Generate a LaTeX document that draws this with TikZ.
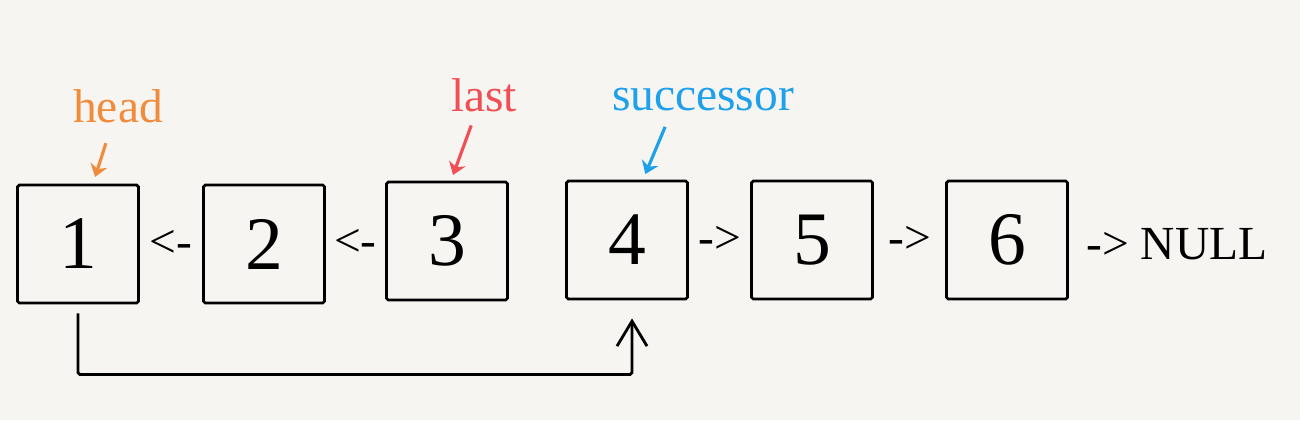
\documentclass[tikz,border=0pt]{standalone}
\usepackage{fontspec}
\setmainfont{Liberation Serif}
\usetikzlibrary{arrows.meta}

\definecolor{paper}{HTML}{F6F5F2}
\definecolor{headc}{HTML}{F08C3C}
\definecolor{lastc}{HTML}{F05055}
\definecolor{succc}{HTML}{1EA0EB}

\tikzset{
    listnode/.style={draw, line width=1.6pt, rounded corners=1pt, minimum width=2.42cm, minimum height=2.36cm, inner sep=0pt, font=\fontsize{43}{50}\selectfont},
    linktext/.style={font=\fontsize{27}{32}\selectfont},
    ptrlabel/.style={font=\fontsize{27}{32}\selectfont},
    ptr/.style={-{Stealth[length=7pt, width=10pt]}, line width=1.8pt},
}

\begin{document}
\begin{tikzpicture}[x=0.2mm, y=-0.2mm]
    \fill[paper] (0, 0) rectangle (1300, 420);

    \node[listnode] (1) at (78, 244) {1};
    \node[listnode] (2) at (264, 244) {2};
    \node[listnode] (3) at (447, 241) {3};
    \node[listnode] (4) at (627, 240) {4};
    \node[listnode] (5) at (812, 240) {5};
    \node[listnode] (6) at (1007, 240) {6};

    \path (2) -- node[linktext] {<-} (1);
    \path (3) -- node[linktext] {<-} (2);
    \path (4) -- node[linktext] {->} (5);
    \path (5) -- node[linktext] {->} (6);
    \node[linktext, anchor=west, inner sep=0pt] (null) at (1086, 244) {-> NULL};

    % head
    \node[ptrlabel, text=headc] (hd) at (118, 106) {head};
    \draw[ptr, headc, shorten <=3mm, shorten >=1.4mm] ([xshift=-1.5mm]hd.south) -- ([xshift=3mm]1.north);
    % last
    \node[ptrlabel, text=lastc] (lst) at (484, 95) {last};
    \draw[ptr, lastc, shorten <=1.6mm, shorten >=1.2mm] ([xshift=-2mm]lst.south) -- ([xshift=0.8mm]3.north);
    % successor
    \node[ptrlabel, text=succc] (suc) at (703, 100) {successor};
    \draw[ptr, succc, shorten <=2mm, shorten >=1.2mm] ([xshift=-6.8mm]suc.south) -- ([xshift=3.2mm]4.north);

    \draw[-{Straight Barb[length=5mm, width=6mm]}, line width=1.6pt, rounded corners=1pt]
        ([yshift=-1.8mm]1.south) -- ++(0, 61) -| ([xshift=1mm, yshift=-3.6mm]4.south);
\end{tikzpicture}
\end{document}
